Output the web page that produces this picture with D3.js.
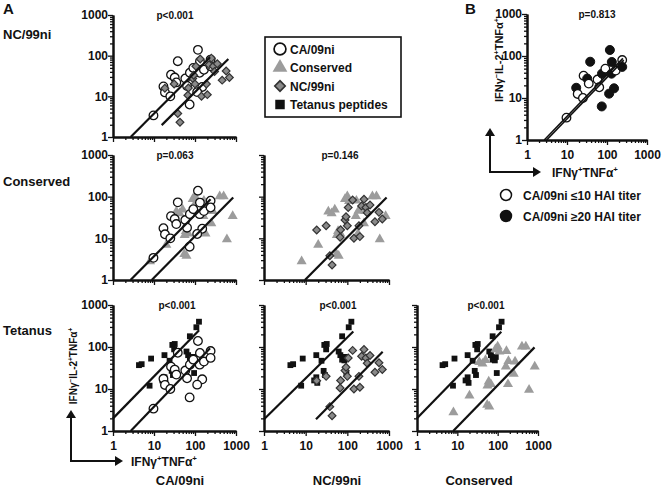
<!DOCTYPE html>
<html>
<head>
<meta charset="utf-8">
<script src="https://cdn.jsdelivr.net/npm/d3@7"></script>
<style>
  body { margin: 0; background: #fff; }
  text { font-family: "Liberation Sans", Arial, sans-serif; font-weight: bold; fill: #111; }
</style>
</head>
<body>
<div id="graf"></div>
<script>
// Data: [IFNγ+TNFα+, IFNγ-IL-2+TNFα+]
const caPts = [[9.7,3.4],[17,17.5],[18.5,12.5],[25,10],[26,34],[32,29],[35,22],[38,73],[58,27.5],[64,18],
  [74,6.3],[75,38],[91,50],[118,139],[132,72],[130,38],[150,17],[165,45],[113,12.7],[240,80],[240,55]]
// 1 = CA/09ni >=20 HAI titer
const caTiter = [0,1,0,0,0,1,0,1,0,0,1,1,0,1,1,1,1,0,1,0,1]
const ncPts = [[18.4,15.8],[31,20],[38,3.8],[43,2.3],[69,16],[67,10.6],[88,27.5],[93,33],[100,20],[105,55],
  [134,83],[144,10],[200,11],[190,20],[251,87],[220,60],[280,55],[300,41],[350,63],[460,25],[575,42],[690,29]]
const consPts = [[8,2.8],[20,7],[35,44],[42,40],[50,49],[55,4.2],[62,3.8],[56,12],[60,15],[68,13],[88,88],
  [100,102],[110,78],[165,80],[160,34],[185,46],[180,13],[250,23],[270,45],[400,102],[500,102],[600,9.5],[830,34]]
const tetPts = [[4.3,37],[5,39],[8.5,53],[7.8,12],[16,16],[18,19],[19,14],[18,64],[24,47],[27,27],[29,21.5],
  [28,112],[32,118],[31,88],[62,78],[68,64],[75,50],[85,48],[75,180],[108,295],[125,400],[95,24],[90,58]]

// fitted lines (end points)
const fitNcCa = [[2.7,1],[233,91]]
const fitNcNc = [[15.4,1.96],[650,83]]
const fitConsCa = [[2.67,1],[240,87]]
const fitConsCons = [[8.8,1],[855,96]]
const fitConsNc = [[9.6,1],[875,95]]
const fitTetCa1 = [[1,2],[126,250]]
const fitTetCa2 = [[2.7,1],[233,93]]
const fitTetNc1 = [[1,1.9],[139,233]]
const fitTetNc2 = [[17.7,1.9],[705,77]]
const fitTetCons1 = [[1,2],[123,230]]
const fitTetCons2 = [[7.9,1],[820,98]]
const fitLow = [[2.7,1],[250,88]]
const fitHigh = [[3.1,1],[262,80]]

const majorTicks = [1, 10, 100, 1000]
const pLabels = ["p<0.001", "p=0.063", "p=0.146", "p<0.001", "p<0.001", "p<0.001", "p=0.813"]

const svg = d3.select("#graf").append("svg").attr("width", 672).attr("height", 487)

const sym = {
  ca: { type: d3.symbolCircle, size: 58, fill: "#fff", stroke: "#111", sw: 1.3, rot: 0 },
  caFill: { type: d3.symbolCircle, size: 64, fill: "#111", stroke: "#111", sw: 1, rot: 0 },
  nc: { type: d3.symbolSquare, size: 30, fill: "#8a8a8a", stroke: "#333", sw: 1.2, rot: 45 },
  cons: { type: d3.symbolTriangle, size: 44, fill: "#9c9c9c", stroke: "none", sw: 0, rot: 0 },
  tet: { type: d3.symbolSquare, size: 34, fill: "#111", stroke: "none", sw: 0, rot: 0 }
}

function panel(p) {
  const x = d3.scaleLog().domain([1, 1000]).range([p.x0, p.x1])
  const y = d3.scaleLog().domain([1, 1000]).range([p.y0, p.y1])
  const minor = x.ticks().filter(d => !majorTicks.includes(d))
  const g = svg.append("g")

  // axes
  const ax = g.append("g").attr("transform", `translate(0,${p.y0})`)
  ax.call(d3.axisBottom(x).tickValues(minor).tickSize(3).tickSizeOuter(0).tickFormat(""))
  const axM = g.append("g").attr("transform", `translate(0,${p.y0})`)
  axM.call(d3.axisBottom(x).tickValues(majorTicks).tickSize(5).tickSizeOuter(0).tickPadding(5)
    .tickFormat(p.xLab ? d3.format("d") : ""))
  const ay = g.append("g").attr("transform", `translate(${p.x0},0)`)
  ay.call(d3.axisLeft(y).tickValues(minor).tickSize(3).tickSizeOuter(0).tickFormat(""))
  const ayM = g.append("g").attr("transform", `translate(${p.x0},0)`)
  ayM.call(d3.axisLeft(y).tickValues(majorTicks).tickSize(5).tickSizeOuter(0).tickPadding(0)
    .tickFormat(p.yLab ? d3.format("d") : ""))
  g.selectAll(".domain").attr("stroke", "#111").attr("stroke-width", 2)
  g.selectAll(".tick line").attr("stroke", "#111").attr("stroke-width", 1.3)
  g.selectAll(".tick text").attr("font-size", 12).attr("font-family", "Liberation Sans, Arial, sans-serif")
    .attr("font-weight", "bold").attr("fill", "#111")

  // points
  p.series.forEach(s => {
    g.append("g").selectAll("path").data(s.pts).join("path")
      .attr("d", (d, i) => d3.symbol().type(s.sym(i).type).size(s.sym(i).size)())
      .attr("transform", (d, i) => `translate(${x(d[0])},${y(d[1])}) rotate(${s.sym(i).rot})`)
      .attr("fill", (d, i) => s.sym(i).fill)
      .attr("stroke", (d, i) => s.sym(i).stroke)
      .attr("stroke-width", (d, i) => s.sym(i).sw)
  })

  // fitted lines
  const line = d3.line().x(d => x(d[0])).y(d => y(d[1]))
  p.fits.forEach(f => {
    g.append("path").attr("d", line(f)).attr("fill", "none").attr("stroke", "#111")
      .attr("stroke-width", p.thin ? 1.6 : 2.2)
  })

  g.append("text").attr("x", p.px).attr("y", p.y1 + 4).attr("text-anchor", "middle")
    .attr("font-size", 10).text(p.pLab)
}

const c1 = [113, 236], c2 = [264, 389], c3 = [417, 538]
const r1 = [137, 15], r2 = [280, 155], r3 = [431, 305]
const one = s => () => sym[s]

panel({ x0: c1[0], x1: c1[1], y0: r1[0], y1: r1[1], yLab: true, xLab: false, px: 175, pLab: pLabels[0],
  series: [{ pts: caPts, sym: one("ca") }, { pts: ncPts, sym: one("nc") }], fits: [fitNcCa, fitNcNc] })
panel({ x0: c1[0], x1: c1[1], y0: r2[0], y1: r2[1], yLab: true, xLab: false, px: 175, pLab: pLabels[1],
  series: [{ pts: consPts, sym: one("cons") }, { pts: caPts, sym: one("ca") }], fits: [fitConsCa, fitConsCons] })
panel({ x0: c2[0], x1: c2[1], y0: r2[0], y1: r2[1], yLab: false, xLab: false, px: 340, pLab: pLabels[2],
  series: [{ pts: consPts, sym: one("cons") }, { pts: ncPts, sym: one("nc") }], fits: [fitConsNc] })
panel({ x0: c1[0], x1: c1[1], y0: r3[0], y1: r3[1], yLab: true, xLab: true, px: 177, pLab: pLabels[3],
  series: [{ pts: tetPts, sym: one("tet") }, { pts: caPts, sym: one("ca") }], fits: [fitTetCa1, fitTetCa2] })
panel({ x0: c2[0], x1: c2[1], y0: r3[0], y1: r3[1], yLab: false, xLab: true, px: 338, pLab: pLabels[4],
  series: [{ pts: tetPts, sym: one("tet") }, { pts: ncPts, sym: one("nc") }], fits: [fitTetNc1, fitTetNc2] })
panel({ x0: c3[0], x1: c3[1], y0: r3[0], y1: r3[1], yLab: false, xLab: true, px: 486, pLab: pLabels[5],
  series: [{ pts: tetPts, sym: one("tet") }, { pts: consPts, sym: one("cons") }], fits: [fitTetCons1, fitTetCons2] })
panel({ x0: 527, x1: 647, y0: 140, y1: 14, yLab: true, xLab: true, px: 597, pLab: pLabels[6], thin: true,
  series: [{ pts: caPts, sym: i => caTiter[i] ? sym.caFill : sym.ca }], fits: [fitLow, fitHigh] })

// labels
const txt = (x, y, s, size, anchor) => svg.append("text").attr("x", x).attr("y", y)
  .attr("font-size", size).attr("text-anchor", anchor || "start").text(s)
txt(3, 14, "A", 15)
txt(465, 14, "B", 15)
txt(3, 39, "NC/99ni", 13)
txt(3, 186, "Conserved", 13)
txt(3, 335, "Tetanus", 13)
txt(180, 485, "CA/09ni", 13, "middle")
txt(337, 485, "NC/99ni", 13, "middle")
txt(479, 485, "Conserved", 13, "middle")

// axis titles with arrows
function yTitle(x, y, size) {
  const t = svg.append("text").attr("transform", `translate(${x},${y}) rotate(-90)`)
    .attr("text-anchor", "middle").attr("font-size", size)
  const parts = [["IFNγ", 0], ["−", 1], ["IL-2", 0], ["+", 1], ["TNFα", 0], ["+", 1]]
  let up = false
  parts.forEach(([s, sup]) => {
    const ts = t.append("tspan").text(s)
    if (sup) { ts.attr("font-size", size * 0.65).attr("dy", up ? 0 : -size * 0.4); up = true }
    else { ts.attr("dy", up ? size * 0.4 : 0); up = false }
  })
}
function xTitle(x, y, size) {
  const t = svg.append("text").attr("x", x).attr("y", y).attr("font-size", size)
  const parts = [["IFNγ", 0], ["+", 1], ["TNFα", 0], ["+", 1]]
  let up = false
  parts.forEach(([s, sup]) => {
    const ts = t.append("tspan").text(s)
    if (sup) { ts.attr("font-size", size * 0.65).attr("dy", -size * 0.4); up = true }
    else { ts.attr("dy", up ? size * 0.4 : 0); up = false }
  })
}
function arrows(cx, cy, topY, rightX) {
  svg.append("path").attr("d", `M${cx},${topY + 6}V${cy}H${rightX - 6}`)
    .attr("fill", "none").attr("stroke", "#111").attr("stroke-width", 2)
  svg.append("path").attr("d", `M${cx},${topY}l-5,8h10z`).attr("fill", "#111")
  svg.append("path").attr("d", `M${rightX},${cy}l-8,-5v10z`).attr("fill", "#111")
}
yTitle(77, 366, 10)
xTitle(131, 466, 12)
arrows(71, 461, 410, 123)
yTitle(503, 60, 11)
xTitle(552, 177, 12)
arrows(490, 172, 128, 541)

// legend A
svg.append("rect").attr("x", 265).attr("y", 37).attr("width", 136).attr("height", 80)
  .attr("fill", "none").attr("stroke", "#111").attr("stroke-width", 1.6)
const legA = [["CA/09ni", "ca", 110], ["Conserved", "cons", 95], ["NC/99ni", "nc", 55], ["Tetanus peptides", "tet", 90]]
legA.forEach(([lab, k, size], i) => {
  const s = sym[k], yy = 49 + i * 18.5
  svg.append("path").attr("d", d3.symbol().type(s.type).size(size)())
    .attr("transform", `translate(280,${yy}) rotate(${s.rot})`)
    .attr("fill", s.fill).attr("stroke", s.stroke).attr("stroke-width", s.sw + 0.4)
  txt(290, yy + 4.5, lab, 12)
})

// legend B
const legB = [["CA/09ni ≤10 HAI titer", "ca"], ["CA/09ni ≥20 HAI titer", "caFill"]]
legB.forEach(([lab, k], i) => {
  const s = sym[k], yy = 195 + i * 21
  svg.append("path").attr("d", d3.symbol().type(s.type).size(95)())
    .attr("transform", `translate(506,${yy})`)
    .attr("fill", s.fill).attr("stroke", s.stroke).attr("stroke-width", 1.5)
  txt(523, yy + 4.5, lab, 12)
})
</script>
</body>
</html>
